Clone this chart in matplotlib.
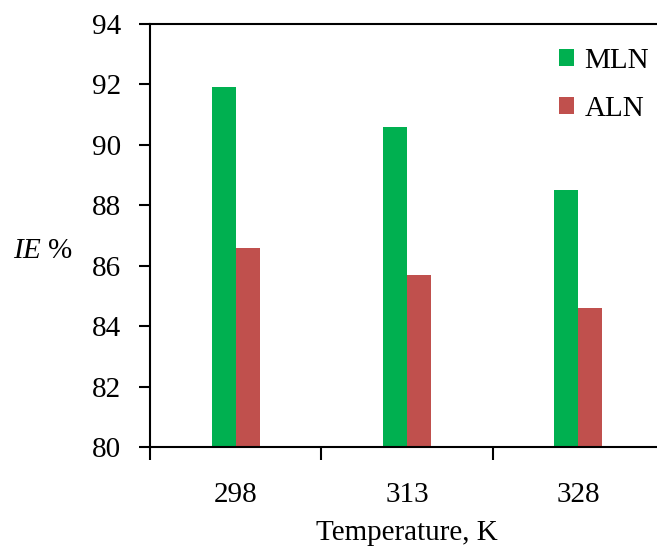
import numpy as np
import matplotlib
matplotlib.use('Agg')
from matplotlib import pyplot as plt

plt.rcParams['font.family'] = 'Liberation Serif'
plt.rcParams['mathtext.fontset'] = 'custom'
plt.rcParams['mathtext.rm'] = 'Liberation Serif'
plt.rcParams['mathtext.it'] = 'Liberation Serif:italic'

temperatures = ['298', '313', '328']
mln = [91.9, 90.6, 88.5]
aln = [86.6, 85.7, 84.6]

FS = 21
W, H = 657, 547

fig = plt.figure(figsize=(W / 100, H / 100), dpi=100)
ax = fig.add_axes([150 / W, 1 - 447 / H, 514 / W, 423 / H])

x = np.arange(len(temperatures))
w = 0.14
ax.bar(x - w/2, mln, w, color='#00B050', label='MLN')
ax.bar(x + w/2, aln, w, color='#C0504D', label='ALN')

ax.set_xlim(-0.5, 2.5)
ax.set_ylim(80, 94)
ax.set_yticks(range(80, 95, 2))
# category labels sit between the boundary ticks
ax.set_xticks([-0.5, 0.5, 1.5])
ax.set_xticklabels([])
ax.set_xticks(x, minor=True)
ax.set_xticklabels(temperatures, minor=True)
ax.tick_params(axis='x', which='minor', length=0, pad=25, labelsize=FS)
ax.tick_params(axis='x', which='major', direction='out', length=9, width=1.5)
ax.tick_params(axis='y', direction='out', length=8, width=1.5, labelsize=FS, pad=13)

for s in ['left', 'bottom', 'top']:
    ax.spines[s].set_linewidth(1.5)
ax.spines['right'].set_visible(False)

ax.set_xlabel('Temperature, K', fontsize=FS, labelpad=8.5)
fig.text(13 / W, 1 - 251 / H, r'$IE$ %', fontsize=FS, ha='left', va='center')

ax.legend(loc='upper left', bbox_to_anchor=(559 / W, 1 - 48 / H),
          bbox_transform=fig.transFigure, frameon=False, borderpad=0,
          borderaxespad=0, fontsize=FS, handlelength=0.52, handleheight=0.52,
          handletextpad=0.35, labelspacing=0.76)

fig.savefig('out.png', dpi=100)
